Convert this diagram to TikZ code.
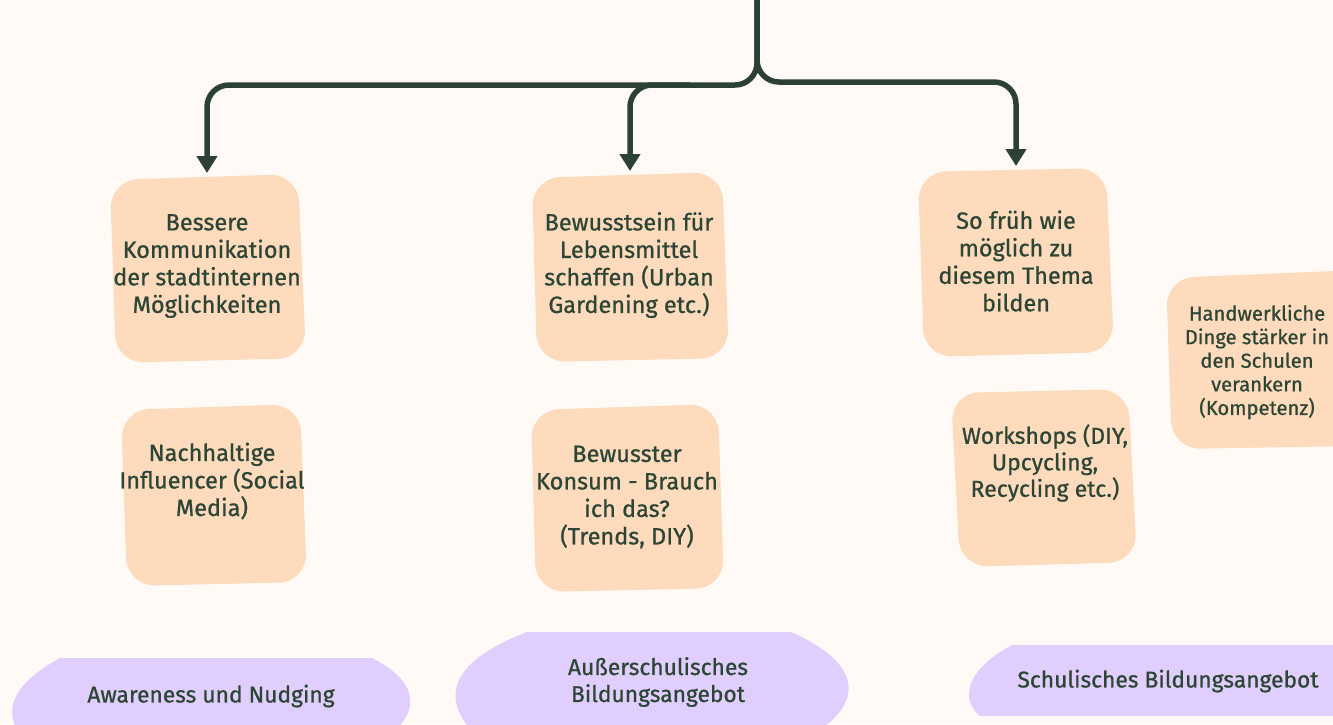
\documentclass[tikz,border=0pt]{standalone}
\usepackage{fontspec}
\setmainfont{Fira Sans}[FakeBold=0.8]
\usetikzlibrary{arrows.meta}
\definecolor{bgc}{HTML}{FFFAF6}
\definecolor{peach}{HTML}{FFDBBD}
\definecolor{lilac}{HTML}{E0CFFE}
\definecolor{ink}{HTML}{2D4535}
\definecolor{arrowc}{HTML}{2C4134}
\tikzset{
  notetext/.style={align=center, inner sep=0pt, text=ink, font=\fontsize{23.5}{27.5}\selectfont},
  labeltext/.style={align=center, inner sep=0pt, text=ink, font=\fontsize{22.8}{27}\selectfont},
  sticky/.style={fill=peach, rounded corners=28pt},
  blob/.style={fill=lilac},
  conn/.style={draw=arrowc, line width=5.5pt, rounded corners=22pt, -{Triangle[width=20pt,length=17pt]}},
  trunk/.style={draw=arrowc, line width=5.5pt, rounded corners=22pt}
}
\begin{document}
\begin{tikzpicture}[x=1pt,y=-1pt]
\useasboundingbox (0,0) rectangle (1333,724);
\clip (0,0) rectangle (1333,724);
\fill[bgc] (0,0) rectangle (1333,724);

% cut-off title fragment
\node[inner sep=0pt, text=ink, font=\fontsize{22}{26}\selectfont, anchor=south] (title) at (830,-3) {g};

% sticky notes
\path[sticky] (110,180) -- (298,174) -- (306,358) -- (116,363) -- cycle;
\path[sticky] (121,410) -- (300,404) -- (307,582) -- (127,586) -- cycle;
\path[sticky] (532,178) -- (722,172) -- (729,358) -- (537,362) -- cycle;
\path[sticky] (531,410) -- (718,404) -- (724,588) -- (536,592) -- cycle;
\path[sticky] (918,172) -- (1106,168) -- (1114,352) -- (924,357) -- cycle;
\path[sticky] (951,393) -- (1128,389) -- (1137,562) -- (960,567) -- cycle;
\path[sticky] (1166,278) -- (1360,270) -- (1360,446) -- (1172,449) -- cycle;

\node[notetext] (n1) at (207,266) {Bessere\\Kommunikation\\der stadtinternen\\Möglichkeiten};
\node[notetext] (n2) at (212,481) {Nachhaltige\\Influencer (Social\\Media)};
\node[notetext] (n3) at (629,265) {Bewusstsein für\\Lebensmittel\\schaffen (Urban\\Gardening etc.)};
\node[notetext] (n4) at (627,497) {Bewusster\\Konsum - Brauch\\ich das?\\(Trends, DIY)};
\node[notetext] (n5) at (1016,261) {So früh wie\\möglich zu\\diesem Thema\\bilden};
\node[notetext, font=\fontsize{23}{26.5}\selectfont] (n6) at (1045,463) {Workshops (DIY,\\Upcycling,\\Recycling etc.)};
\node[notetext, font=\fontsize{20.2}{23.6}\selectfont] (n7) at (1257,362) {Handwerkliche\\Dinge stärker in\\den Schulen\\verankern\\(Kompetenz)};

% lilac blobs
\path[blob] (60,658) -- (372,658) .. controls (425,685) and (415,715) .. (390,735)
  -- (20,735) .. controls (0,705) and (20,680) .. (60,658) -- cycle;
\path[blob] (527,632) -- (791,632) .. controls (866,665) and (862,705) .. (812,735)
  -- (476,735) .. controls (445,705) and (440,665) .. (527,632) -- cycle;
\path[blob] (1012,645) -- (1345,645) -- (1345,716) -- (980,716)
  .. controls (960,700) and (965,670) .. (1012,645) -- cycle;

\node[labeltext] (l1) at (211,696) {Awareness und Nudging};
\node[labeltext] (l2) at (658,682) {Außerschulisches\\Bildungsangebot};
\node[labeltext] (l3) at (1168,681) {Schulisches Bildungsangebot};

% connectors
\coordinate (top) at (757,-10);
\coordinate (jl) at (757,85);
\coordinate (jr) at (757,82);
\coordinate (cl) at (207,85);
\coordinate (cr) at (1016,82);
\coordinate (cm0) at (690,85);
\coordinate (cm) at (630,85);
\coordinate (t1) at (207,173);
\coordinate (t3) at (630,171);
\coordinate (t5) at (1016,166);
\draw[conn] (top) -- (jl) -- (cl) -- (t1);
\draw[conn] (top) -- (jr) -- (cr) -- (t5);
\draw[conn] (cm0) -- (cm) -- (t3);
\end{tikzpicture}
\end{document}
